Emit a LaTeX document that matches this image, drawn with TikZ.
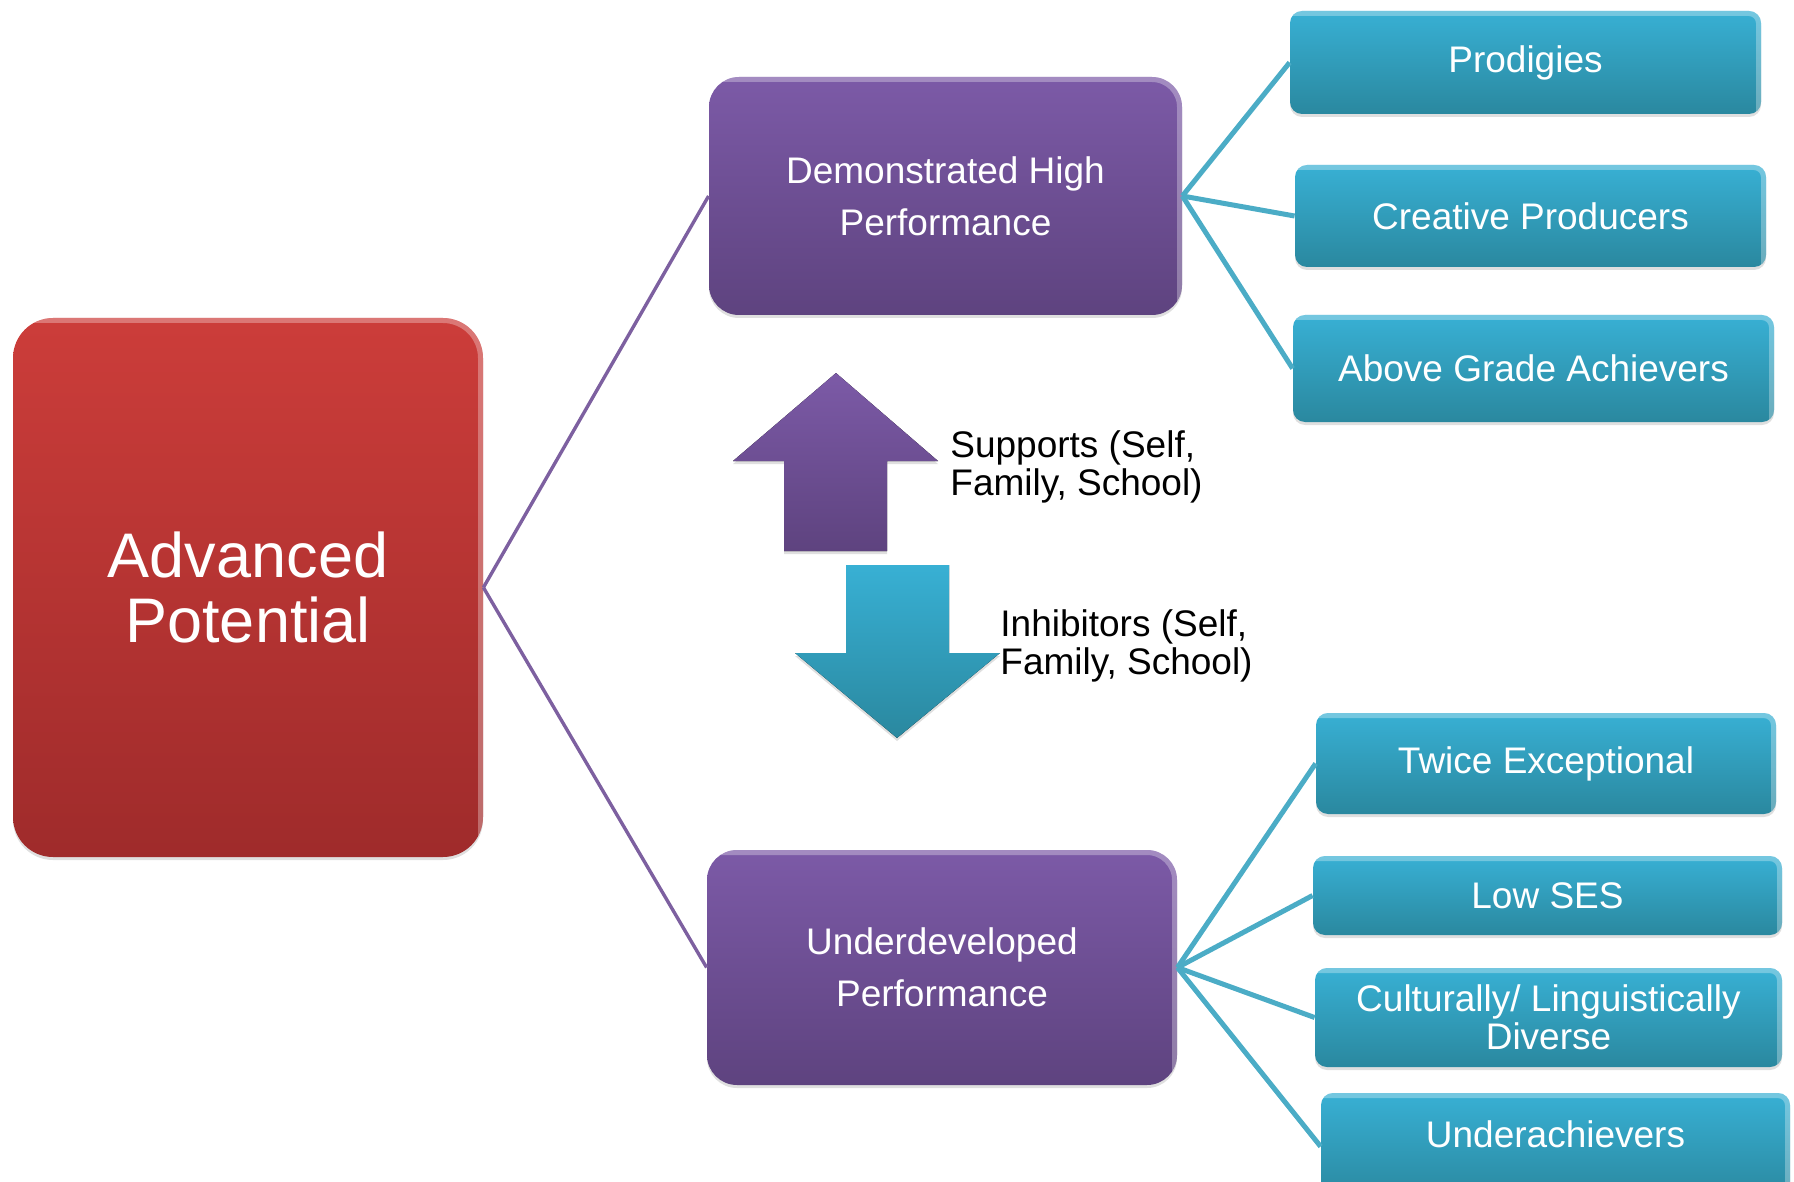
\documentclass[tikz,border=0pt]{standalone}
\usepackage{fontspec}
\setmainfont{Liberation Sans}
\usetikzlibrary{shadows}

\definecolor{redtop}{HTML}{CC3D3A}
\definecolor{redbot}{HTML}{9F2B2B}
\definecolor{purtop}{HTML}{7C5AA7}
\definecolor{purbot}{HTML}{5E437F}
\definecolor{blutop}{HTML}{38B0D4}
\definecolor{blubot}{HTML}{2A889F}
\definecolor{purline}{HTML}{7D60A0}
\definecolor{bluline}{HTML}{4BACC6}

\begin{document}
\begin{tikzpicture}[x=0.5pt,y=-0.5pt,
  softshadow/.style={drop shadow={shadow xshift=0pt,shadow yshift=-1.5pt,opacity=0.25}},
  bevel/.style={path picture={
    \draw[white, opacity=0.3, line width=5pt]
      (path picture bounding box.north west) -- (path picture bounding box.north east)
      -- (path picture bounding box.south east);}},
  mainbox/.style={rounded corners=20pt, inner sep=0pt, align=center, text=white,
    top color=redtop, bottom color=redbot, softshadow, bevel,
    font=\fontsize{31.5pt}{32.5pt}\selectfont},
  levelbox/.style={rounded corners=15pt, inner sep=0pt, align=center, text=white,
    top color=purtop, bottom color=purbot, softshadow, bevel,
    font=\fontsize{18.5pt}{26pt}\selectfont},
  leafbox/.style={rounded corners=6pt, inner sep=0pt, align=center, text=white,
    top color=blutop, bottom color=blubot, softshadow, bevel,
    font=\fontsize{18.5pt}{19pt}\selectfont},
  note/.style={inner sep=0pt, align=left, text=black,
    font=\fontsize{18.5pt}{19pt}\selectfont},
  purpleline/.style={draw=purline, line width=1.7pt},
  blueline/.style={draw=bluline, line width=2.5pt}]

\useasboundingbox (0,0) rectangle (1794,1182);
\clip (0,0) rectangle (1794,1182);

% main boxes
\node[mainbox, minimum width=235pt, minimum height=269.5pt] (adv) at (248,587.5) {Advanced\\Potential};
\node[levelbox, minimum width=236.5pt, minimum height=119pt] (dhp) at (945.5,196) {Demonstrated High\\Performance};
\node[levelbox, minimum width=235pt, minimum height=117.5pt] (udp) at (942,967.5) {Underdeveloped\\Performance};

% leaves
\node[leafbox, minimum width=235.5pt, minimum height=51.5pt] (prod) at (1525.5,62.5) {Prodigies};
\node[leafbox, minimum width=235.5pt, minimum height=51pt] (creat) at (1530.5,216) {Creative Producers};
\node[leafbox, minimum width=240.5pt, minimum height=53.5pt] (above) at (1533.5,368.5) {Above Grade Achievers};
\node[leafbox, minimum width=230pt, minimum height=50.5pt] (twice) at (1546,763.5) {Twice Exceptional};
\node[leafbox, minimum width=234.5pt, minimum height=39.5pt] (lowses) at (1547.5,895.5) {Low SES};
\node[leafbox, minimum width=233.5pt, minimum height=49.5pt] (cult) at (1548.5,1017.5) {Culturally/ Linguistically\\Diverse};
\node[leafbox, minimum width=234.5pt, minimum height=53.5pt, text depth=12pt] (under) at (1555.5,1146.5) {Underachievers};

% connectors
\draw[purpleline] (adv.east) -- (dhp.west);
\draw[purpleline] (adv.east) -- (udp.west);
\foreach \n in {prod,creat,above}
  \draw[blueline] (dhp.east) -- (\n.west);
\foreach \n in {twice,lowses,cult,under}
  \draw[blueline] (udp.east) -- (\n.west);

% arrows
\fill[top color=purtop, bottom color=purbot, softshadow] (836,373) -- (938,461) -- (887,461) -- (887,551) -- (784,551) -- (784,461) -- (733,461) -- cycle;
\fill[top color=blutop, bottom color=blubot, softshadow] (846,565) -- (949,565) -- (949,653) -- (1000,653) -- (897,738) -- (795,653) -- (846,653) -- cycle;

\node[note, anchor=west] (sup) at (950,467) {Supports (Self,\\Family, School)};
\node[note, anchor=west] (inh) at (1000,646) {Inhibitors (Self,\\Family, School)};

\end{tikzpicture}
\end{document}
